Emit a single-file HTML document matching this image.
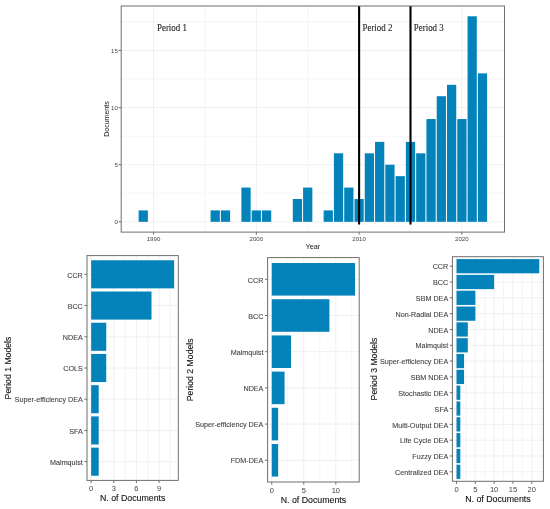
<!DOCTYPE html><html><head><meta charset="utf-8"><style>html,body{margin:0;padding:0;background:#fff;width:550px;height:509px;overflow:hidden}svg{display:block;filter:blur(0.35px)}text{font-family:"Liberation Sans",sans-serif}.t{stroke:#111;stroke-width:0.1}</style></head><body>
<svg width="550" height="509" viewBox="0 0 550 509">
<line x1="153.53" y1="6.0" x2="153.53" y2="232.1" stroke="#eeeeee" stroke-width="0.9"/>
<line x1="204.92" y1="6.0" x2="204.92" y2="232.1" stroke="#eeeeee" stroke-width="0.6"/>
<line x1="256.32" y1="6.0" x2="256.32" y2="232.1" stroke="#eeeeee" stroke-width="0.9"/>
<line x1="307.71" y1="6.0" x2="307.71" y2="232.1" stroke="#eeeeee" stroke-width="0.6"/>
<line x1="359.11" y1="6.0" x2="359.11" y2="232.1" stroke="#eeeeee" stroke-width="0.9"/>
<line x1="410.50" y1="6.0" x2="410.50" y2="232.1" stroke="#eeeeee" stroke-width="0.6"/>
<line x1="461.89" y1="6.0" x2="461.89" y2="232.1" stroke="#eeeeee" stroke-width="0.9"/>
<line x1="121.2" y1="221.82" x2="504.5" y2="221.82" stroke="#eeeeee" stroke-width="0.9"/>
<line x1="121.2" y1="193.27" x2="504.5" y2="193.27" stroke="#eeeeee" stroke-width="0.6"/>
<line x1="121.2" y1="164.73" x2="504.5" y2="164.73" stroke="#eeeeee" stroke-width="0.9"/>
<line x1="121.2" y1="136.18" x2="504.5" y2="136.18" stroke="#eeeeee" stroke-width="0.6"/>
<line x1="121.2" y1="107.63" x2="504.5" y2="107.63" stroke="#eeeeee" stroke-width="0.9"/>
<line x1="121.2" y1="79.08" x2="504.5" y2="79.08" stroke="#eeeeee" stroke-width="0.6"/>
<line x1="121.2" y1="50.53" x2="504.5" y2="50.53" stroke="#eeeeee" stroke-width="0.9"/>
<line x1="121.2" y1="21.99" x2="504.5" y2="21.99" stroke="#eeeeee" stroke-width="0.6"/>
<rect x="138.62" y="210.40" width="9.25" height="11.42" fill="#0483bb"/>
<rect x="210.57" y="210.40" width="9.25" height="11.42" fill="#0483bb"/>
<rect x="220.85" y="210.40" width="9.25" height="11.42" fill="#0483bb"/>
<rect x="241.41" y="187.57" width="9.25" height="34.26" fill="#0483bb"/>
<rect x="251.69" y="210.40" width="9.25" height="11.42" fill="#0483bb"/>
<rect x="261.97" y="210.40" width="9.25" height="11.42" fill="#0483bb"/>
<rect x="292.81" y="198.98" width="9.25" height="22.84" fill="#0483bb"/>
<rect x="303.09" y="187.57" width="9.25" height="34.26" fill="#0483bb"/>
<rect x="323.64" y="210.40" width="9.25" height="11.42" fill="#0483bb"/>
<rect x="333.92" y="153.31" width="9.25" height="68.52" fill="#0483bb"/>
<rect x="344.20" y="187.57" width="9.25" height="34.26" fill="#0483bb"/>
<rect x="354.48" y="198.98" width="9.25" height="22.84" fill="#0483bb"/>
<rect x="364.76" y="153.31" width="9.25" height="68.52" fill="#0483bb"/>
<rect x="375.04" y="141.89" width="9.25" height="79.93" fill="#0483bb"/>
<rect x="385.32" y="164.73" width="9.25" height="57.10" fill="#0483bb"/>
<rect x="395.60" y="176.15" width="9.25" height="45.68" fill="#0483bb"/>
<rect x="405.87" y="141.89" width="9.25" height="79.93" fill="#0483bb"/>
<rect x="416.15" y="153.31" width="9.25" height="68.52" fill="#0483bb"/>
<rect x="426.43" y="119.05" width="9.25" height="102.77" fill="#0483bb"/>
<rect x="436.71" y="96.21" width="9.25" height="125.61" fill="#0483bb"/>
<rect x="446.99" y="84.79" width="9.25" height="137.03" fill="#0483bb"/>
<rect x="457.27" y="119.05" width="9.25" height="102.77" fill="#0483bb"/>
<rect x="467.55" y="16.28" width="9.25" height="205.55" fill="#0483bb"/>
<rect x="477.83" y="73.37" width="9.25" height="148.45" fill="#0483bb"/>
<line x1="359.11" y1="6.0" x2="359.11" y2="224.5" stroke="#000" stroke-width="2.1"/>
<line x1="410.50" y1="6.0" x2="410.50" y2="224.5" stroke="#000" stroke-width="2.1"/>
<rect x="121.2" y="6.0" width="383.30" height="226.10" fill="none" stroke="#6e6e6e" stroke-width="1"/>
<line x1="118.60000000000001" y1="221.82" x2="121.2" y2="221.82" stroke="#6e6e6e" stroke-width="1"/>
<text x="117.8" y="223.92" font-size="6.1" fill="#444444" text-anchor="end">0</text>
<line x1="118.60000000000001" y1="164.73" x2="121.2" y2="164.73" stroke="#6e6e6e" stroke-width="1"/>
<text x="117.8" y="166.83" font-size="6.1" fill="#444444" text-anchor="end">5</text>
<line x1="118.60000000000001" y1="107.63" x2="121.2" y2="107.63" stroke="#6e6e6e" stroke-width="1"/>
<text x="117.8" y="109.73" font-size="6.1" fill="#444444" text-anchor="end">10</text>
<line x1="118.60000000000001" y1="50.53" x2="121.2" y2="50.53" stroke="#6e6e6e" stroke-width="1"/>
<text x="117.8" y="52.63" font-size="6.1" fill="#444444" text-anchor="end">15</text>
<line x1="153.53" y1="232.1" x2="153.53" y2="234.7" stroke="#6e6e6e" stroke-width="1"/>
<text x="153.53" y="240.6" font-size="6.1" fill="#444444" text-anchor="middle">1990</text>
<line x1="256.32" y1="232.1" x2="256.32" y2="234.7" stroke="#6e6e6e" stroke-width="1"/>
<text x="256.32" y="240.6" font-size="6.1" fill="#444444" text-anchor="middle">2000</text>
<line x1="359.11" y1="232.1" x2="359.11" y2="234.7" stroke="#6e6e6e" stroke-width="1"/>
<text x="359.11" y="240.6" font-size="6.1" fill="#444444" text-anchor="middle">2010</text>
<line x1="461.89" y1="232.1" x2="461.89" y2="234.7" stroke="#6e6e6e" stroke-width="1"/>
<text x="461.89" y="240.6" font-size="6.1" fill="#444444" text-anchor="middle">2020</text>
<text x="312.85" y="248.8" font-size="7.3" fill="#111111" text-anchor="middle">Year</text>
<text transform="translate(109.0,119.05) rotate(-90)" x="0" y="0" font-size="7" fill="#111111" text-anchor="middle">Documents</text>
<text transform="translate(157,30.8) scale(0.98,1.03)" x="0" y="0" font-size="9.1" fill="#262626" stroke="#262626" stroke-width="0.12" style="font-family:'Liberation Serif',serif">Period 1</text>
<text transform="translate(362.5,30.8) scale(0.98,1.03)" x="0" y="0" font-size="9.1" fill="#262626" stroke="#262626" stroke-width="0.12" style="font-family:'Liberation Serif',serif">Period 2</text>
<text transform="translate(413.8,30.8) scale(0.98,1.03)" x="0" y="0" font-size="9.1" fill="#262626" stroke="#262626" stroke-width="0.12" style="font-family:'Liberation Serif',serif">Period 3</text>
<line x1="91.15" y1="255.6" x2="91.15" y2="480.4" stroke="#eeeeee" stroke-width="0.9"/>
<line x1="102.47" y1="255.6" x2="102.47" y2="480.4" stroke="#eeeeee" stroke-width="0.6"/>
<line x1="113.79" y1="255.6" x2="113.79" y2="480.4" stroke="#eeeeee" stroke-width="0.9"/>
<line x1="125.10" y1="255.6" x2="125.10" y2="480.4" stroke="#eeeeee" stroke-width="0.6"/>
<line x1="136.42" y1="255.6" x2="136.42" y2="480.4" stroke="#eeeeee" stroke-width="0.9"/>
<line x1="147.74" y1="255.6" x2="147.74" y2="480.4" stroke="#eeeeee" stroke-width="0.6"/>
<line x1="159.06" y1="255.6" x2="159.06" y2="480.4" stroke="#eeeeee" stroke-width="0.9"/>
<line x1="170.38" y1="255.6" x2="170.38" y2="480.4" stroke="#eeeeee" stroke-width="0.6"/>
<line x1="87.0" y1="461.67" x2="178.3" y2="461.67" stroke="#eeeeee" stroke-width="0.9"/>
<line x1="87.0" y1="430.44" x2="178.3" y2="430.44" stroke="#eeeeee" stroke-width="0.9"/>
<line x1="87.0" y1="399.22" x2="178.3" y2="399.22" stroke="#eeeeee" stroke-width="0.9"/>
<line x1="87.0" y1="368.00" x2="178.3" y2="368.00" stroke="#eeeeee" stroke-width="0.9"/>
<line x1="87.0" y1="336.78" x2="178.3" y2="336.78" stroke="#eeeeee" stroke-width="0.9"/>
<line x1="87.0" y1="305.56" x2="178.3" y2="305.56" stroke="#eeeeee" stroke-width="0.9"/>
<line x1="87.0" y1="274.33" x2="178.3" y2="274.33" stroke="#eeeeee" stroke-width="0.9"/>
<rect x="91.15" y="260.28" width="83.00" height="28.10" fill="#0483bb"/>
<rect x="91.15" y="291.51" width="60.36" height="28.10" fill="#0483bb"/>
<rect x="91.15" y="322.73" width="15.09" height="28.10" fill="#0483bb"/>
<rect x="91.15" y="353.95" width="15.09" height="28.10" fill="#0483bb"/>
<rect x="91.15" y="385.17" width="7.55" height="28.10" fill="#0483bb"/>
<rect x="91.15" y="416.39" width="7.55" height="28.10" fill="#0483bb"/>
<rect x="91.15" y="447.62" width="7.55" height="28.10" fill="#0483bb"/>
<rect x="87.0" y="255.6" width="91.30" height="224.80" fill="none" stroke="#6e6e6e" stroke-width="1"/>
<line x1="84.4" y1="274.33" x2="87.0" y2="274.33" stroke="#6e6e6e" stroke-width="1"/>
<text transform="translate(82.80,277.53) scale(1,1.12)" x="0" y="0" font-size="7.2" fill="#444444" stroke="#444444" stroke-width="0.1" text-anchor="end">CCR</text>
<line x1="84.4" y1="305.56" x2="87.0" y2="305.56" stroke="#6e6e6e" stroke-width="1"/>
<text transform="translate(82.80,308.76) scale(1,1.12)" x="0" y="0" font-size="7.2" fill="#444444" stroke="#444444" stroke-width="0.1" text-anchor="end">BCC</text>
<line x1="84.4" y1="336.78" x2="87.0" y2="336.78" stroke="#6e6e6e" stroke-width="1"/>
<text transform="translate(82.80,339.98) scale(1,1.12)" x="0" y="0" font-size="7.2" fill="#444444" stroke="#444444" stroke-width="0.1" text-anchor="end">NDEA</text>
<line x1="84.4" y1="368.00" x2="87.0" y2="368.00" stroke="#6e6e6e" stroke-width="1"/>
<text transform="translate(82.80,371.20) scale(1,1.12)" x="0" y="0" font-size="7.2" fill="#444444" stroke="#444444" stroke-width="0.1" text-anchor="end">COLS</text>
<line x1="84.4" y1="399.22" x2="87.0" y2="399.22" stroke="#6e6e6e" stroke-width="1"/>
<text transform="translate(82.80,402.42) scale(1,1.12)" x="0" y="0" font-size="7.2" fill="#444444" stroke="#444444" stroke-width="0.1" text-anchor="end">Super-efficiency DEA</text>
<line x1="84.4" y1="430.44" x2="87.0" y2="430.44" stroke="#6e6e6e" stroke-width="1"/>
<text transform="translate(82.80,433.64) scale(1,1.12)" x="0" y="0" font-size="7.2" fill="#444444" stroke="#444444" stroke-width="0.1" text-anchor="end">SFA</text>
<line x1="84.4" y1="461.67" x2="87.0" y2="461.67" stroke="#6e6e6e" stroke-width="1"/>
<text transform="translate(82.80,464.87) scale(1,1.12)" x="0" y="0" font-size="7.2" fill="#444444" stroke="#444444" stroke-width="0.1" text-anchor="end">Malmquist</text>
<line x1="91.15" y1="480.4" x2="91.15" y2="483.0" stroke="#6e6e6e" stroke-width="1"/>
<text x="91.15" y="491.20" font-size="7.5" fill="#444444" text-anchor="middle">0</text>
<line x1="113.79" y1="480.4" x2="113.79" y2="483.0" stroke="#6e6e6e" stroke-width="1"/>
<text x="113.79" y="491.20" font-size="7.5" fill="#444444" text-anchor="middle">3</text>
<line x1="136.42" y1="480.4" x2="136.42" y2="483.0" stroke="#6e6e6e" stroke-width="1"/>
<text x="136.42" y="491.20" font-size="7.5" fill="#444444" text-anchor="middle">6</text>
<line x1="159.06" y1="480.4" x2="159.06" y2="483.0" stroke="#6e6e6e" stroke-width="1"/>
<text x="159.06" y="491.20" font-size="7.5" fill="#444444" text-anchor="middle">9</text>
<text x="132.65" y="501.20" font-size="8.8" class="t" fill="#111111" text-anchor="middle">N. of Documents</text>
<text transform="translate(11.3,368.00) rotate(-90)" x="0" y="0" font-size="8.7" class="t" fill="#111111" text-anchor="middle">Period 1 Models</text>
<line x1="271.76" y1="257.6" x2="271.76" y2="482.0" stroke="#eeeeee" stroke-width="0.9"/>
<line x1="287.78" y1="257.6" x2="287.78" y2="482.0" stroke="#eeeeee" stroke-width="0.6"/>
<line x1="303.79" y1="257.6" x2="303.79" y2="482.0" stroke="#eeeeee" stroke-width="0.9"/>
<line x1="319.81" y1="257.6" x2="319.81" y2="482.0" stroke="#eeeeee" stroke-width="0.6"/>
<line x1="335.82" y1="257.6" x2="335.82" y2="482.0" stroke="#eeeeee" stroke-width="0.9"/>
<line x1="351.83" y1="257.6" x2="351.83" y2="482.0" stroke="#eeeeee" stroke-width="0.6"/>
<line x1="267.6" y1="460.28" x2="359.2" y2="460.28" stroke="#eeeeee" stroke-width="0.9"/>
<line x1="267.6" y1="424.09" x2="359.2" y2="424.09" stroke="#eeeeee" stroke-width="0.9"/>
<line x1="267.6" y1="387.90" x2="359.2" y2="387.90" stroke="#eeeeee" stroke-width="0.9"/>
<line x1="267.6" y1="351.70" x2="359.2" y2="351.70" stroke="#eeeeee" stroke-width="0.9"/>
<line x1="267.6" y1="315.51" x2="359.2" y2="315.51" stroke="#eeeeee" stroke-width="0.9"/>
<line x1="267.6" y1="279.32" x2="359.2" y2="279.32" stroke="#eeeeee" stroke-width="0.9"/>
<rect x="271.76" y="263.03" width="83.27" height="32.57" fill="#0483bb"/>
<rect x="271.76" y="299.22" width="57.65" height="32.57" fill="#0483bb"/>
<rect x="271.76" y="335.42" width="19.22" height="32.57" fill="#0483bb"/>
<rect x="271.76" y="371.61" width="12.81" height="32.57" fill="#0483bb"/>
<rect x="271.76" y="407.80" width="6.41" height="32.57" fill="#0483bb"/>
<rect x="271.76" y="444.00" width="6.41" height="32.57" fill="#0483bb"/>
<rect x="267.6" y="257.6" width="91.60" height="224.40" fill="none" stroke="#6e6e6e" stroke-width="1"/>
<line x1="265.0" y1="279.32" x2="267.6" y2="279.32" stroke="#6e6e6e" stroke-width="1"/>
<text transform="translate(263.40,282.52) scale(1,1.12)" x="0" y="0" font-size="7.2" fill="#444444" stroke="#444444" stroke-width="0.1" text-anchor="end">CCR</text>
<line x1="265.0" y1="315.51" x2="267.6" y2="315.51" stroke="#6e6e6e" stroke-width="1"/>
<text transform="translate(263.40,318.71) scale(1,1.12)" x="0" y="0" font-size="7.2" fill="#444444" stroke="#444444" stroke-width="0.1" text-anchor="end">BCC</text>
<line x1="265.0" y1="351.70" x2="267.6" y2="351.70" stroke="#6e6e6e" stroke-width="1"/>
<text transform="translate(263.40,354.90) scale(1,1.12)" x="0" y="0" font-size="7.2" fill="#444444" stroke="#444444" stroke-width="0.1" text-anchor="end">Malmquist</text>
<line x1="265.0" y1="387.90" x2="267.6" y2="387.90" stroke="#6e6e6e" stroke-width="1"/>
<text transform="translate(263.40,391.10) scale(1,1.12)" x="0" y="0" font-size="7.2" fill="#444444" stroke="#444444" stroke-width="0.1" text-anchor="end">NDEA</text>
<line x1="265.0" y1="424.09" x2="267.6" y2="424.09" stroke="#6e6e6e" stroke-width="1"/>
<text transform="translate(263.40,427.29) scale(1,1.12)" x="0" y="0" font-size="7.2" fill="#444444" stroke="#444444" stroke-width="0.1" text-anchor="end">Super-efficiency DEA</text>
<line x1="265.0" y1="460.28" x2="267.6" y2="460.28" stroke="#6e6e6e" stroke-width="1"/>
<text transform="translate(263.40,463.48) scale(1,1.12)" x="0" y="0" font-size="7.2" fill="#444444" stroke="#444444" stroke-width="0.1" text-anchor="end">FDM-DEA</text>
<line x1="271.76" y1="482.0" x2="271.76" y2="484.6" stroke="#6e6e6e" stroke-width="1"/>
<text x="271.76" y="492.80" font-size="7.5" fill="#444444" text-anchor="middle">0</text>
<line x1="303.79" y1="482.0" x2="303.79" y2="484.6" stroke="#6e6e6e" stroke-width="1"/>
<text x="303.79" y="492.80" font-size="7.5" fill="#444444" text-anchor="middle">5</text>
<line x1="335.82" y1="482.0" x2="335.82" y2="484.6" stroke="#6e6e6e" stroke-width="1"/>
<text x="335.82" y="492.80" font-size="7.5" fill="#444444" text-anchor="middle">10</text>
<text x="313.40" y="502.80" font-size="8.8" class="t" fill="#111111" text-anchor="middle">N. of Documents</text>
<text transform="translate(192.7,369.80) rotate(-90)" x="0" y="0" font-size="8.7" class="t" fill="#111111" text-anchor="middle">Period 2 Models</text>
<line x1="456.54" y1="256.7" x2="456.54" y2="481.3" stroke="#eeeeee" stroke-width="0.9"/>
<line x1="465.94" y1="256.7" x2="465.94" y2="481.3" stroke="#eeeeee" stroke-width="0.6"/>
<line x1="475.34" y1="256.7" x2="475.34" y2="481.3" stroke="#eeeeee" stroke-width="0.9"/>
<line x1="484.74" y1="256.7" x2="484.74" y2="481.3" stroke="#eeeeee" stroke-width="0.6"/>
<line x1="494.14" y1="256.7" x2="494.14" y2="481.3" stroke="#eeeeee" stroke-width="0.9"/>
<line x1="503.54" y1="256.7" x2="503.54" y2="481.3" stroke="#eeeeee" stroke-width="0.6"/>
<line x1="512.94" y1="256.7" x2="512.94" y2="481.3" stroke="#eeeeee" stroke-width="0.9"/>
<line x1="522.34" y1="256.7" x2="522.34" y2="481.3" stroke="#eeeeee" stroke-width="0.6"/>
<line x1="531.74" y1="256.7" x2="531.74" y2="481.3" stroke="#eeeeee" stroke-width="0.9"/>
<line x1="541.14" y1="256.7" x2="541.14" y2="481.3" stroke="#eeeeee" stroke-width="0.6"/>
<line x1="452.4" y1="471.81" x2="543.4" y2="471.81" stroke="#eeeeee" stroke-width="0.9"/>
<line x1="452.4" y1="455.99" x2="543.4" y2="455.99" stroke="#eeeeee" stroke-width="0.9"/>
<line x1="452.4" y1="440.18" x2="543.4" y2="440.18" stroke="#eeeeee" stroke-width="0.9"/>
<line x1="452.4" y1="424.36" x2="543.4" y2="424.36" stroke="#eeeeee" stroke-width="0.9"/>
<line x1="452.4" y1="408.54" x2="543.4" y2="408.54" stroke="#eeeeee" stroke-width="0.9"/>
<line x1="452.4" y1="392.73" x2="543.4" y2="392.73" stroke="#eeeeee" stroke-width="0.9"/>
<line x1="452.4" y1="376.91" x2="543.4" y2="376.91" stroke="#eeeeee" stroke-width="0.9"/>
<line x1="452.4" y1="361.09" x2="543.4" y2="361.09" stroke="#eeeeee" stroke-width="0.9"/>
<line x1="452.4" y1="345.27" x2="543.4" y2="345.27" stroke="#eeeeee" stroke-width="0.9"/>
<line x1="452.4" y1="329.46" x2="543.4" y2="329.46" stroke="#eeeeee" stroke-width="0.9"/>
<line x1="452.4" y1="313.64" x2="543.4" y2="313.64" stroke="#eeeeee" stroke-width="0.9"/>
<line x1="452.4" y1="297.82" x2="543.4" y2="297.82" stroke="#eeeeee" stroke-width="0.9"/>
<line x1="452.4" y1="282.01" x2="543.4" y2="282.01" stroke="#eeeeee" stroke-width="0.9"/>
<line x1="452.4" y1="266.19" x2="543.4" y2="266.19" stroke="#eeeeee" stroke-width="0.9"/>
<rect x="456.54" y="259.07" width="82.73" height="14.24" fill="#0483bb"/>
<rect x="456.54" y="274.89" width="37.60" height="14.24" fill="#0483bb"/>
<rect x="456.54" y="290.71" width="18.80" height="14.24" fill="#0483bb"/>
<rect x="456.54" y="306.52" width="18.80" height="14.24" fill="#0483bb"/>
<rect x="456.54" y="322.34" width="11.28" height="14.24" fill="#0483bb"/>
<rect x="456.54" y="338.16" width="11.28" height="14.24" fill="#0483bb"/>
<rect x="456.54" y="353.97" width="7.52" height="14.24" fill="#0483bb"/>
<rect x="456.54" y="369.79" width="7.52" height="14.24" fill="#0483bb"/>
<rect x="456.54" y="385.61" width="3.76" height="14.24" fill="#0483bb"/>
<rect x="456.54" y="401.42" width="3.76" height="14.24" fill="#0483bb"/>
<rect x="456.54" y="417.24" width="3.76" height="14.24" fill="#0483bb"/>
<rect x="456.54" y="433.06" width="3.76" height="14.24" fill="#0483bb"/>
<rect x="456.54" y="448.88" width="3.76" height="14.24" fill="#0483bb"/>
<rect x="456.54" y="464.69" width="3.76" height="14.24" fill="#0483bb"/>
<rect x="452.4" y="256.7" width="91.00" height="224.60" fill="none" stroke="#6e6e6e" stroke-width="1"/>
<line x1="449.79999999999995" y1="266.19" x2="452.4" y2="266.19" stroke="#6e6e6e" stroke-width="1"/>
<text transform="translate(448.20,269.39) scale(1,1.12)" x="0" y="0" font-size="7.2" fill="#444444" stroke="#444444" stroke-width="0.1" text-anchor="end">CCR</text>
<line x1="449.79999999999995" y1="282.01" x2="452.4" y2="282.01" stroke="#6e6e6e" stroke-width="1"/>
<text transform="translate(448.20,285.21) scale(1,1.12)" x="0" y="0" font-size="7.2" fill="#444444" stroke="#444444" stroke-width="0.1" text-anchor="end">BCC</text>
<line x1="449.79999999999995" y1="297.82" x2="452.4" y2="297.82" stroke="#6e6e6e" stroke-width="1"/>
<text transform="translate(448.20,301.02) scale(1,1.12)" x="0" y="0" font-size="7.2" fill="#444444" stroke="#444444" stroke-width="0.1" text-anchor="end">SBM DEA</text>
<line x1="449.79999999999995" y1="313.64" x2="452.4" y2="313.64" stroke="#6e6e6e" stroke-width="1"/>
<text transform="translate(448.20,316.84) scale(1,1.12)" x="0" y="0" font-size="7.2" fill="#444444" stroke="#444444" stroke-width="0.1" text-anchor="end">Non-Radial DEA</text>
<line x1="449.79999999999995" y1="329.46" x2="452.4" y2="329.46" stroke="#6e6e6e" stroke-width="1"/>
<text transform="translate(448.20,332.66) scale(1,1.12)" x="0" y="0" font-size="7.2" fill="#444444" stroke="#444444" stroke-width="0.1" text-anchor="end">NDEA</text>
<line x1="449.79999999999995" y1="345.27" x2="452.4" y2="345.27" stroke="#6e6e6e" stroke-width="1"/>
<text transform="translate(448.20,348.47) scale(1,1.12)" x="0" y="0" font-size="7.2" fill="#444444" stroke="#444444" stroke-width="0.1" text-anchor="end">Malmquist</text>
<line x1="449.79999999999995" y1="361.09" x2="452.4" y2="361.09" stroke="#6e6e6e" stroke-width="1"/>
<text transform="translate(448.20,364.29) scale(1,1.12)" x="0" y="0" font-size="7.2" fill="#444444" stroke="#444444" stroke-width="0.1" text-anchor="end">Super-efficiency DEA</text>
<line x1="449.79999999999995" y1="376.91" x2="452.4" y2="376.91" stroke="#6e6e6e" stroke-width="1"/>
<text transform="translate(448.20,380.11) scale(1,1.12)" x="0" y="0" font-size="7.2" fill="#444444" stroke="#444444" stroke-width="0.1" text-anchor="end">SBM NDEA</text>
<line x1="449.79999999999995" y1="392.73" x2="452.4" y2="392.73" stroke="#6e6e6e" stroke-width="1"/>
<text transform="translate(448.20,395.93) scale(1,1.12)" x="0" y="0" font-size="7.2" fill="#444444" stroke="#444444" stroke-width="0.1" text-anchor="end">Stochastic DEA</text>
<line x1="449.79999999999995" y1="408.54" x2="452.4" y2="408.54" stroke="#6e6e6e" stroke-width="1"/>
<text transform="translate(448.20,411.74) scale(1,1.12)" x="0" y="0" font-size="7.2" fill="#444444" stroke="#444444" stroke-width="0.1" text-anchor="end">SFA</text>
<line x1="449.79999999999995" y1="424.36" x2="452.4" y2="424.36" stroke="#6e6e6e" stroke-width="1"/>
<text transform="translate(448.20,427.56) scale(1,1.12)" x="0" y="0" font-size="7.2" fill="#444444" stroke="#444444" stroke-width="0.1" text-anchor="end">Multi-Output DEA</text>
<line x1="449.79999999999995" y1="440.18" x2="452.4" y2="440.18" stroke="#6e6e6e" stroke-width="1"/>
<text transform="translate(448.20,443.38) scale(1,1.12)" x="0" y="0" font-size="7.2" fill="#444444" stroke="#444444" stroke-width="0.1" text-anchor="end">Life Cycle DEA</text>
<line x1="449.79999999999995" y1="455.99" x2="452.4" y2="455.99" stroke="#6e6e6e" stroke-width="1"/>
<text transform="translate(448.20,459.19) scale(1,1.12)" x="0" y="0" font-size="7.2" fill="#444444" stroke="#444444" stroke-width="0.1" text-anchor="end">Fuzzy DEA</text>
<line x1="449.79999999999995" y1="471.81" x2="452.4" y2="471.81" stroke="#6e6e6e" stroke-width="1"/>
<text transform="translate(448.20,475.01) scale(1,1.12)" x="0" y="0" font-size="7.2" fill="#444444" stroke="#444444" stroke-width="0.1" text-anchor="end">Centralized DEA</text>
<line x1="456.54" y1="481.3" x2="456.54" y2="483.90000000000003" stroke="#6e6e6e" stroke-width="1"/>
<text x="456.54" y="492.10" font-size="7.5" fill="#444444" text-anchor="middle">0</text>
<line x1="475.34" y1="481.3" x2="475.34" y2="483.90000000000003" stroke="#6e6e6e" stroke-width="1"/>
<text x="475.34" y="492.10" font-size="7.5" fill="#444444" text-anchor="middle">5</text>
<line x1="494.14" y1="481.3" x2="494.14" y2="483.90000000000003" stroke="#6e6e6e" stroke-width="1"/>
<text x="494.14" y="492.10" font-size="7.5" fill="#444444" text-anchor="middle">10</text>
<line x1="512.94" y1="481.3" x2="512.94" y2="483.90000000000003" stroke="#6e6e6e" stroke-width="1"/>
<text x="512.94" y="492.10" font-size="7.5" fill="#444444" text-anchor="middle">15</text>
<line x1="531.74" y1="481.3" x2="531.74" y2="483.90000000000003" stroke="#6e6e6e" stroke-width="1"/>
<text x="531.74" y="492.10" font-size="7.5" fill="#444444" text-anchor="middle">20</text>
<text x="497.90" y="502.10" font-size="8.8" class="t" fill="#111111" text-anchor="middle">N. of Documents</text>
<text transform="translate(376.5,369.00) rotate(-90)" x="0" y="0" font-size="8.7" class="t" fill="#111111" text-anchor="middle">Period 3 Models</text>
</svg></body></html>
